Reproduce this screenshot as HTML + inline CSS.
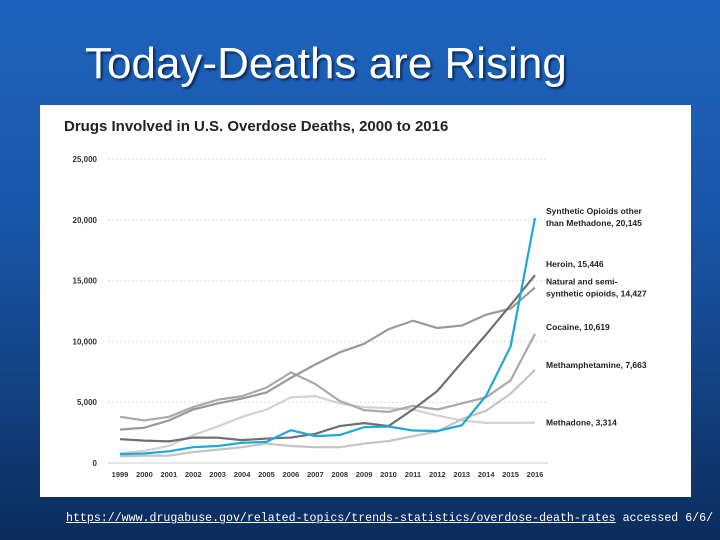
<!DOCTYPE html>
<html><head><meta charset="utf-8"><style>
html,body{margin:0;padding:0}
body{width:720px;height:540px;overflow:hidden;position:relative;background:linear-gradient(180deg,#1d63bd 0%,#1a56a8 40%,#123f7e 75%,#0b2c5c 100%);font-family:"Liberation Sans",sans-serif}
#title{position:absolute;left:85px;top:39px;font-size:44px;color:#fff;text-shadow:2px 2px 2px #0a2a55}
#panel{position:absolute;left:40px;top:105px;width:651px;height:392px;background:#fff}
#src{position:absolute;left:66px;top:512px;width:654px;overflow:hidden;font-family:"Liberation Mono",monospace;font-size:11.6px;color:#fff;white-space:nowrap}
#src span.u{text-decoration:underline}
</style></head><body>
<div id="title">Today-Deaths are Rising</div>
<div id="panel">
<svg id="chart" width="651" height="392"></svg>
</div>
<div id="src"><span class="u">https://www.drugabuse.gov/related-topics/trends-statistics/overdose-death-rates</span> accessed 6/6/</div>
<script>
const years=[1999,2000,2001,2002,2003,2004,2005,2006,2007,2008,2009,2010,2011,2012,2013,2014,2015,2016];
const yTicks=[0,5000,10000,15000,20000,25000];
const synthetic=[730,780,960,1300,1400,1660,1740,2700,2210,2300,2950,3000,2670,2630,3100,5540,9580,20145];
const heroin=[1960,1840,1780,2090,2080,1880,2010,2090,2400,3040,3280,3040,4400,5920,8260,10570,12990,15446];
const natural=[2750,2900,3500,4400,4900,5300,5800,7000,8100,9100,9800,11000,11700,11100,11300,12200,12700,14427];
const cocaine=[3800,3500,3800,4600,5200,5500,6200,7450,6500,5100,4350,4200,4700,4400,4900,5400,6800,10619];
const meth=[550,600,600,900,1100,1300,1600,1400,1300,1300,1600,1800,2200,2600,3600,4300,5700,7663];
const methadone=[800,1000,1400,2300,3000,3800,4400,5400,5500,4900,4600,4500,4400,3900,3500,3300,3300,3314];
const seriesLabels=[["Synthetic Opioids other","than Methadone, 20,145"],["Heroin, 15,446"],["Natural and semi-","synthetic opioids, 14,427"],["Cocaine, 10,619"],["Methamphetamine, 7,663"],["Methadone, 3,314"]];

const svg=document.getElementById('chart');
const NS='http://www.w3.org/2000/svg';
const x0=80,x1=495,yb=358,yt=54,ymax=25000;
const X=i=>x0+(x1-x0)*i/(years.length-1);
const Y=v=>yb-(yb-yt)*v/ymax;
function mk(t,a){const e=document.createElementNS(NS,t);for(const k in a)e.setAttribute(k,a[k]);svg.appendChild(e);return e;}
let t=mk('text',{x:24,y:26,'font-size':15,'font-weight':'bold',fill:'#222'});t.textContent='Drugs Involved in U.S. Overdose Deaths, 2000 to 2016';


yTicks.forEach(v=>{
 const l=mk('line',{x1:68,x2:508,y1:Y(v),y2:Y(v),stroke:v===0?'#ccc':'#ddd','stroke-dasharray':v===0?'':'2,2'});
 
 
 const tx=mk('text',{x:57,y:Y(v)+3,'font-size':8,'font-weight':'bold','text-anchor':'end',fill:'#333'});
 tx.textContent=v===0?'0':v.toLocaleString('en-US');
 
 
});
years.forEach((yr,i)=>{
 const tx=mk('text',{x:X(i),y:yb+14,'font-size':7.5,'font-weight':'bold','text-anchor':'middle',fill:'#333'});
 tx.textContent=yr;
 
 
});
const series=[[methadone,'#d2d2d2','methadone-line'],[meth,'#c4c4c4','methamphetamine-line'],[cocaine,'#a9a9a9','cocaine-line'],[natural,'#999','natural-opioids-line'],[heroin,'#6f6f6f','heroin-line'],[synthetic,'#1ea8d4','synthetic-opioids-line']];
series.forEach(([d,c,n])=>{
 const p=mk('polyline',{points:d.map((v,i)=>X(i)+','+Y(v)).join(' '),fill:'none',stroke:c,'stroke-width':2.2,'stroke-linejoin':'round'});
 
 
});
const labelY=[[Y(20145)-4,Y(20145)+8],[Y(15446)-8],[Y(14427)-3,Y(14427)+9],[Y(10619)-4],[Y(7663)-2],[Y(3314)+3]];
seriesLabels.forEach((lines,k)=>{
 lines.forEach((s,j)=>{
  const tx=mk('text',{x:506,y:labelY[k][j],'font-size':8.5,'font-weight':'bold',fill:'#222'});
  tx.textContent=s;
  
  
 });
});
</script>
</body></html>
